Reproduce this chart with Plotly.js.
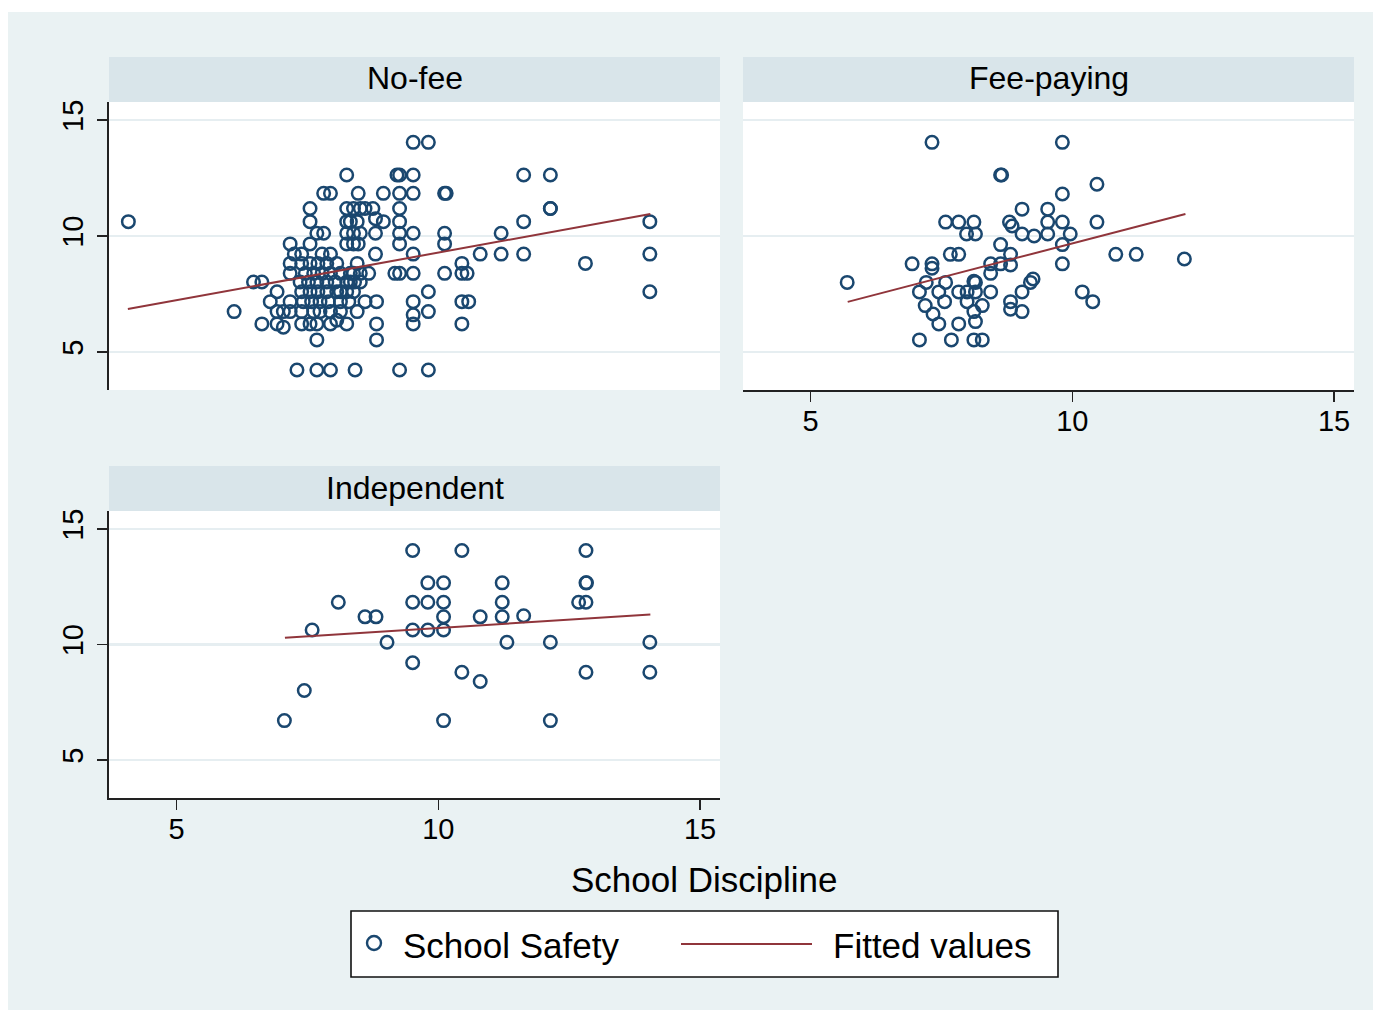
<!DOCTYPE html>
<html>
<head>
<meta charset="utf-8">
<script src="https://cdn.plot.ly/plotly-3.0.1.min.js"></script>
<style>
html,body{margin:0;padding:0;background:#ffffff;}
#chart{position:absolute;left:8px;top:12px;width:1365px;height:998px;}
</style>
</head>
<body>
<div id="chart"></div>
<script>
// ---------------- DATA ----------------
const panelTitles = ["No-fee", "Fee-paying", "Independent"];
const xAxisTitle = "School Discipline";
const legendLabels = ["School Safety", "Fitted values"];
const tickValues = [5, 10, 15];
const tickLabels = ["5", "10", "15"];

// No-fee: School Discipline (x) vs School Safety (y)
const noFeeX = [
  9.52, 9.81,
  8.25, 9.21, 9.26, 9.52, 11.63, 12.14,
  7.81, 7.94, 8.47, 8.95, 9.26, 9.52, 10.12, 10.15,
  7.55, 8.25, 8.38, 8.51, 8.60, 8.75, 9.26, 12.14, 12.14,
  7.55, 8.25, 8.32, 8.45, 8.95, 9.26, 11.63, 14.04, 8.80, 4.08,
  7.68, 7.81, 8.25, 8.38, 8.51, 8.80, 9.26, 9.52, 10.12, 11.20,
  7.17, 7.55, 8.25, 8.38, 8.47, 9.26, 10.12,
  7.25, 7.39, 7.78, 7.94, 8.80, 9.52, 10.80, 11.20, 11.63, 14.04,
  7.17, 7.39, 7.55, 7.70, 7.87, 8.06, 8.45, 10.45, 12.81,
  7.17, 7.46, 7.62, 7.78, 7.94, 8.13, 8.32, 8.38, 8.51, 8.67, 9.17, 9.26, 9.52, 10.12, 10.45, 10.55,
  6.47, 6.63, 7.36, 7.52, 7.68, 7.87, 8.03, 8.25, 8.32, 8.40, 8.51,
  6.92, 7.39, 7.55, 7.70, 7.87, 8.06, 8.13, 8.25, 8.38, 9.81, 14.04,
  6.79, 7.17, 7.42, 7.58, 7.74, 7.90, 8.13, 8.29, 8.60, 8.82, 9.52, 10.45, 10.58,
  6.10, 6.92, 7.04, 7.17, 7.39, 7.62, 7.74, 7.94, 8.13, 8.45, 9.81, 9.52,
  6.63, 6.92, 7.39, 7.55, 7.68, 7.94, 8.25, 8.82, 9.52, 10.45, 7.04, 8.06,
  7.68, 8.82,
  7.30, 7.68, 7.94, 8.41, 9.26, 9.81
];
const noFeeY = [
  14.04, 14.04,
  12.63, 12.63, 12.63, 12.63, 12.63, 12.63,
  11.84, 11.84, 11.84, 11.84, 11.84, 11.84, 11.84, 11.84,
  11.19, 11.19, 11.19, 11.19, 11.19, 11.19, 11.19, 11.19, 11.19,
  10.62, 10.62, 10.62, 10.62, 10.62, 10.62, 10.62, 10.62, 10.75, 10.62,
  10.12, 10.12, 10.12, 10.12, 10.12, 10.12, 10.12, 10.12, 10.12, 10.12,
  9.66, 9.66, 9.66, 9.66, 9.66, 9.66, 9.66,
  9.22, 9.22, 9.22, 9.22, 9.22, 9.22, 9.22, 9.22, 9.22, 9.22,
  8.82, 8.82, 8.82, 8.82, 8.82, 8.82, 8.82, 8.82, 8.82,
  8.39, 8.39, 8.39, 8.39, 8.39, 8.39, 8.39, 8.39, 8.39, 8.39, 8.39, 8.39, 8.39, 8.39, 8.39, 8.39,
  8.02, 8.02, 8.02, 8.02, 8.02, 8.02, 8.02, 8.02, 8.02, 8.02, 8.02,
  7.60, 7.60, 7.60, 7.60, 7.60, 7.60, 7.60, 7.60, 7.60, 7.60, 7.60,
  7.17, 7.17, 7.17, 7.17, 7.17, 7.17, 7.17, 7.17, 7.17, 7.17, 7.17, 7.17, 7.17,
  6.74, 6.74, 6.74, 6.74, 6.74, 6.74, 6.74, 6.74, 6.74, 6.74, 6.74, 6.60,
  6.21, 6.21, 6.21, 6.21, 6.21, 6.21, 6.21, 6.21, 6.21, 6.21, 6.07, 6.37,
  5.52, 5.52,
  4.22, 4.22, 4.22, 4.22, 4.22, 4.22
];

// Fee-paying
const feeX = [
  7.32, 9.81,
  8.63, 8.65,
  10.47,
  9.81,
  9.04, 9.53,
  7.58, 7.83, 8.12, 8.80, 8.85, 9.53, 9.81, 10.47,
  7.98, 8.15, 9.04, 9.27, 9.53, 9.96,
  8.63, 9.81,
  7.67, 7.83, 8.82, 10.83, 11.22,
  12.14,
  6.94, 7.32, 7.32, 8.44, 8.63, 8.82, 9.81,
  8.44,
  5.70, 7.21, 7.58, 8.12, 8.15, 9.25, 9.20,
  7.08, 7.45, 7.83, 7.99, 8.15, 8.44, 9.04, 10.19,
  7.19, 7.56, 7.99, 8.28, 8.12, 8.82, 8.82, 9.04, 10.39,
  7.34, 7.45, 7.83, 8.15,
  7.08, 7.69, 8.12, 8.28
];
const feeY = [
  14.04, 14.04,
  12.63, 12.63,
  12.23,
  11.81,
  11.16, 11.16,
  10.60, 10.60, 10.60, 10.60, 10.43, 10.60, 10.60, 10.60,
  10.09, 10.09, 10.09, 10.00, 10.09, 10.09,
  9.63, 9.63,
  9.21, 9.21, 9.21, 9.21, 9.21,
  9.01,
  8.80, 8.80, 8.61, 8.80, 8.80, 8.75, 8.80,
  8.39,
  8.00, 8.00, 8.00, 8.05, 8.00, 8.15, 8.00,
  7.59, 7.59, 7.59, 7.59, 7.59, 7.59, 7.59, 7.59,
  7.00, 7.17, 7.17, 7.00, 6.74, 7.17, 6.84, 6.74, 7.17,
  6.64, 6.21, 6.21, 6.31,
  5.52, 5.52, 5.52, 5.52
];

// Independent
const indepX = [
  9.51, 10.45, 12.82,
  9.80, 10.10, 11.22, 12.82, 12.83,
  8.09, 9.51, 9.80, 10.10, 11.22, 12.68, 12.82,
  8.60, 8.81, 10.10, 10.80, 11.22, 11.63,
  7.59, 9.51, 9.80, 10.10,
  9.02, 11.31, 12.14, 14.04,
  9.51,
  10.45, 12.82, 14.04,
  10.80,
  7.44,
  7.06, 10.10, 12.14
];
const indepY = [
  14.07, 14.07, 14.07,
  12.67, 12.67, 12.67, 12.67, 12.67,
  11.83, 11.83, 11.83, 11.83, 11.83, 11.83, 11.83,
  11.20, 11.20, 11.20, 11.20, 11.20, 11.25,
  10.63, 10.63, 10.63, 10.63,
  10.10, 10.10, 10.10, 10.10,
  9.21,
  8.80, 8.80, 8.80,
  8.40,
  8.01,
  6.71, 6.71, 6.71
];

// Fitted values (endpoints of each fitted line)
const noFeeFitX = [4.07, 14.05];
const noFeeFitY = [6.85, 10.95];
const feeFitX = [5.71, 12.16];
const feeFitY = [7.16, 10.95];
const indepFitX = [7.07, 14.05];
const indepFitY = [10.30, 11.30];

// ---------------- STYLE / LAYOUT ----------------
const W = 1365, H = 998, OX = 8, OY = 12;
const px = v => (v - OX) / W;
const py = v => 1 - (v - OY) / H;

const NAVY = '#1a476f', MAROON = '#90353b';
const BG = '#eaf2f3', STRIP = '#d9e5ea', GRID = '#e6eef1', AXIS = '#222222';
const FONT = 'Liberation Sans, Arial, Helvetica, sans-serif';

const xRange = [3.71, 15.38];
const yRange = [3.36, 15.78];

const markerStyle = {symbol: 'circle-open', size: 12.5, color: NAVY, line: {width: 2.5, color: NAVY}};
const lineStyle = {color: MAROON, width: 2};

const traces = [
  {x: noFeeX, y: noFeeY, xaxis: 'x', yaxis: 'y', type: 'scatter', mode: 'markers', marker: markerStyle, name: legendLabels[0], showlegend: false},
  {x: noFeeFitX, y: noFeeFitY, xaxis: 'x', yaxis: 'y', type: 'scatter', mode: 'lines', line: lineStyle, name: legendLabels[1], showlegend: false},
  {x: feeX, y: feeY, xaxis: 'x2', yaxis: 'y2', type: 'scatter', mode: 'markers', marker: markerStyle, name: legendLabels[0], showlegend: false},
  {x: feeFitX, y: feeFitY, xaxis: 'x2', yaxis: 'y2', type: 'scatter', mode: 'lines', line: lineStyle, name: legendLabels[1], showlegend: false},
  {x: indepX, y: indepY, xaxis: 'x3', yaxis: 'y3', type: 'scatter', mode: 'markers', marker: markerStyle, name: legendLabels[0], showlegend: false},
  {x: indepFitX, y: indepFitY, xaxis: 'x3', yaxis: 'y3', type: 'scatter', mode: 'lines', line: lineStyle, name: legendLabels[1], showlegend: false}
];

const tickFont = {family: FONT, size: 29, color: '#000'};

function xAx(domain, anchor, show) {
  return {
    domain: domain, anchor: anchor, range: xRange, fixedrange: true,
    tickmode: 'array', tickvals: tickValues, ticktext: tickLabels,
    showticklabels: show, ticks: show ? 'outside' : '', ticklen: 10, tickwidth: 1.6, tickcolor: AXIS,
    showline: show, linecolor: AXIS, linewidth: 1.6, ticklabelstandoff: -5,
    showgrid: false, zeroline: false, tickfont: tickFont
  };
}
function yAx(domain, anchor, show) {
  return {
    domain: domain, anchor: anchor, range: yRange, fixedrange: true,
    tickmode: 'array', tickvals: tickValues, ticktext: tickLabels,
    showticklabels: show, ticks: show ? 'outside' : '', ticklen: 10, tickwidth: 1.6, tickcolor: AXIS,
    showline: show, linecolor: AXIS, linewidth: 1.6, ticklabelstandoff: 3,
    showgrid: true, gridcolor: GRID, gridwidth: 2.5, zeroline: false,
    tickangle: -90, tickfont: tickFont
  };
}

const xL = [px(109), px(720)], xR = [px(743), px(1354)];
const yT = [py(390), py(102)], yB = [py(798), py(511)];

const shapes = [
  {type: 'rect', xref: 'paper', yref: 'paper', x0: xL[0], x1: xL[1], y0: py(102), y1: py(57), fillcolor: STRIP, line: {width: 0}},
  {type: 'rect', xref: 'paper', yref: 'paper', x0: xR[0], x1: xR[1], y0: py(102), y1: py(57), fillcolor: STRIP, line: {width: 0}},
  {type: 'rect', xref: 'paper', yref: 'paper', x0: xL[0], x1: xL[1], y0: py(511), y1: py(466), fillcolor: STRIP, line: {width: 0}},
  // legend box
  {type: 'rect', xref: 'paper', yref: 'paper', x0: px(351), x1: px(1058), y0: py(977), y1: py(911), fillcolor: '#ffffff', line: {color: '#111', width: 1.6}},
  // legend marker
  {type: 'circle', xref: 'paper', yref: 'paper', x0: px(367), x1: px(381), y0: py(950), y1: py(936), fillcolor: 'rgba(0,0,0,0)', line: {color: NAVY, width: 2.4}},
  // legend line sample
  {type: 'line', xref: 'paper', yref: 'paper', x0: px(681), x1: px(812), y0: py(944), y1: py(944), line: {color: MAROON, width: 2.2}}
];

const annFont = s => ({family: FONT, size: s, color: '#000'});
const annotations = [
  {text: panelTitles[0], xref: 'paper', yref: 'paper', x: px(414.5), y: py(78.5), xanchor: 'center', yanchor: 'middle', showarrow: false, font: annFont(32)},
  {text: panelTitles[1], xref: 'paper', yref: 'paper', x: px(1048.5), y: py(78.5), xanchor: 'center', yanchor: 'middle', showarrow: false, font: annFont(32)},
  {text: panelTitles[2], xref: 'paper', yref: 'paper', x: px(414.5), y: py(487.5), xanchor: 'center', yanchor: 'middle', showarrow: false, font: annFont(32)},
  {text: xAxisTitle, xref: 'paper', yref: 'paper', x: px(704.5), y: py(879), xanchor: 'center', yanchor: 'middle', showarrow: false, font: annFont(35)},
  {text: legendLabels[0], xref: 'paper', yref: 'paper', x: px(401), y: py(945), xanchor: 'left', yanchor: 'middle', showarrow: false, font: annFont(35)},
  {text: legendLabels[1], xref: 'paper', yref: 'paper', x: px(831), y: py(945), xanchor: 'left', yanchor: 'middle', showarrow: false, font: annFont(35)}
];

const layout = {
  width: W, height: H,
  margin: {l: 0, r: 0, t: 0, b: 0, pad: 0},
  paper_bgcolor: BG, plot_bgcolor: '#ffffff',
  showlegend: false,
  font: {family: FONT, color: '#000'},
  xaxis: xAx(xL, 'y', false),
  yaxis: yAx(yT, 'x', true),
  xaxis2: xAx(xR, 'y2', true),
  yaxis2: yAx(yT, 'x2', false),
  xaxis3: xAx(xL, 'y3', true),
  yaxis3: yAx(yB, 'x3', true),
  shapes: shapes,
  annotations: annotations
};

Plotly.newPlot('chart', traces, layout, {displayModeBar: false, staticPlot: true});
</script>
</body>
</html>
